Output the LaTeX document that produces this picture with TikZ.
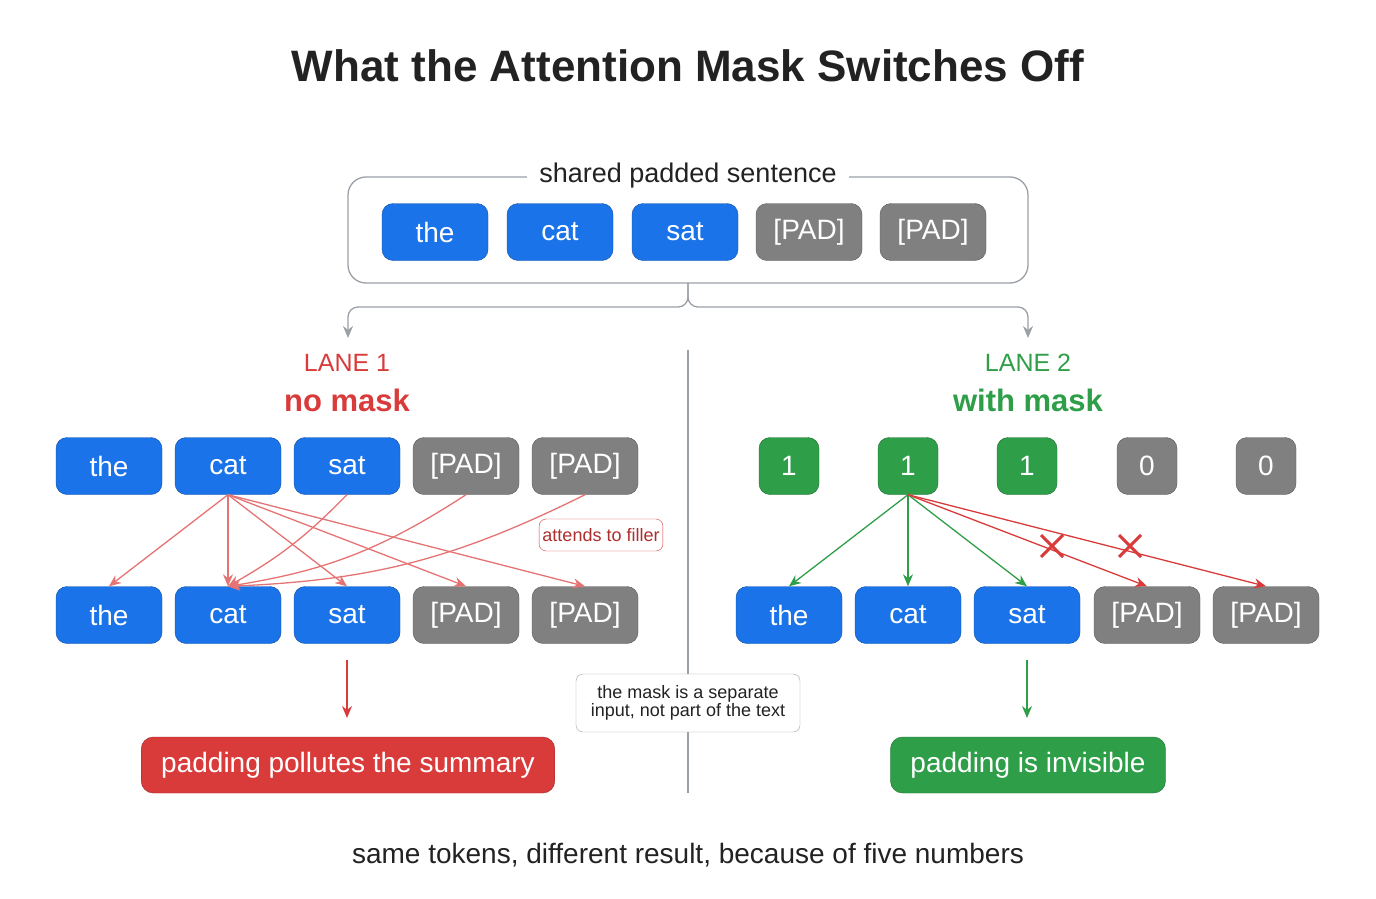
\documentclass[tikz,border=0pt]{standalone}
\usepackage{fontspec}
\setmainfont{Liberation Sans}
\usetikzlibrary{positioning,arrows.meta}
\definecolor{tokblue}{HTML}{1A73E8}
\definecolor{padgray}{HTML}{808080}
\definecolor{lanered}{HTML}{D93A3A}
\definecolor{arrred}{HTML}{E57373}
\definecolor{lanegreen}{HTML}{2E9E48}
\definecolor{framegray}{HTML}{9AA0A6}
\definecolor{inkdark}{HTML}{222222}
\newcommand{\fs}[1]{\fontsize{#1}{#1}\selectfont}
\begin{document}
\begin{tikzpicture}[x=1pt,y=-1pt, >={Stealth[length=12pt,width=10pt]},
tok/.style={rounded corners=11pt,draw=black!40,minimum width=106pt,minimum height=57pt,text=white,font=\fs{28}},
word/.style={tok,fill=tokblue,draw=tokblue!70!black},
pad/.style={tok,fill=padgray,draw=padgray!70!black},
bit/.style={tok,minimum width=60pt},
one/.style={bit,fill=lanegreen,draw=lanegreen!70!black},
zero/.style={bit,fill=padgray,draw=padgray!70!black},
att/.style={->,arrred,line width=1.3pt},
ok/.style={->,lanegreen,line width=1.3pt},
result/.style={rounded corners=12pt,minimum height=56pt,text=white,font=\fs{28},inner xsep=20pt}]
\useasboundingbox (0,0) rectangle (1376,899);
% title and frame
\node[font=\bfseries\fs{44},text=inkdark] (title) at (688,66) {What the Attention Mask Switches Off};
\draw[framegray,line width=1.3pt,rounded corners=18pt] (348,177) rectangle (1028,283);
\node[fill=white,font=\fs{27},text=inkdark,inner xsep=12pt] (shared) at (688,176) {shared padded sentence};
\node[word] (s1) at (435,232) {the};
\node[word] (s2) at (560,232) {cat};
\node[word] (s3) at (685,232) {sat};
\node[pad] (s4) at (809,232) {[PAD]};
\node[pad] (s5) at (933,232) {[PAD]};
\coordinate (split) at (688,283);
\coordinate (l1) at (348,338);
\coordinate (l2) at (1028,338);
\draw[framegray,line width=1.3pt,rounded corners=10pt,->] (split) |- (520,307) -| (l1);
\draw[framegray,line width=1.3pt,rounded corners=10pt,->] (split) |- (860,307) -| (l2);
\draw[framegray,line width=1.3pt] (688,350) -- (688,793);
% lane 1
\node[text=lanered,font=\fs{25}] (lane1) at (347,363) {LANE 1};
\node[text=lanered,font=\bfseries\fs{31}] (nomask) at (347,400) {no mask};
\foreach \i/\x/\t/\s in {1/109/the/word,2/228/cat/word,3/347/sat/word,4/466/[PAD]/pad,5/585/[PAD]/pad}{
  \node[\s] (a\i) at (\x,466) {\t};
  \node[\s] (b\i) at (\x,615) {\t};
}
\foreach \j in {1,...,5} \draw[att] (a2.south) -- (b\j.north);
\draw[att] (a3.south) to[bend left=8] (b2.north);
\draw[att] (a4.south) to[bend left=12] (b2.north);
\draw[att] (a5.south) to[bend left=12] (b2.north);
\node[draw=lanered,fill=white,rounded corners=7pt,text=lanered!80!black,font=\fs{18},minimum height=32pt] (filler) at (601,535) {attends to filler};
\coordinate (d1) at (347,718);
\draw[->,lanered,line width=1.4pt] (347,660) -- (d1);
\node[result,fill=lanered,draw=lanered!70!black] (bad) at (348,765) {padding pollutes the summary};
% lane 2
\node[text=lanegreen,font=\fs{25}] (lane2) at (1028,363) {LANE 2};
\node[text=lanegreen,font=\bfseries\fs{31}] (withmask) at (1028,400) {with mask};
\foreach \i/\x/\t/\s/\m/\v in {1/789/the/word/one/1,2/908/cat/word/one/1,3/1027/sat/word/one/1,4/1147/[PAD]/pad/zero/0,5/1266/[PAD]/pad/zero/0}{
  \node[\m] (m\i) at (\x,466) {\v};
  \node[\s] (c\i) at (\x,615) {\t};
}
\foreach \j in {1,2,3} \draw[ok] (m2.south) -- (c\j.north);
\draw[->,lanered,line width=1.3pt] (m2.south) -- (c4.north);
\draw[->,lanered,line width=1.3pt] (m2.south) -- (c5.north);
\foreach \x in {1052,1130}
  \draw[lanered,line width=3pt] (\x-11,535) -- (\x+11,557) (\x-11,557) -- (\x+11,535);
\coordinate (d2) at (1027,718);
\draw[->,lanegreen,line width=1.4pt] (1027,660) -- (d2);
\node[result,fill=lanegreen,draw=lanegreen!70!black] (good) at (1028,765) {padding is invisible};
% note and footer
\node[draw=framegray,fill=white,rounded corners=7pt,align=center,font=\fs{18},text=inkdark,minimum width=224pt,minimum height=58pt] (note) at (688,703) {the mask is a separate\\input, not part of the text};
\node[font=\fs{28},text=inkdark] (footer) at (688,855) {same tokens, different result, because of five numbers};
\end{tikzpicture}
\end{document}
